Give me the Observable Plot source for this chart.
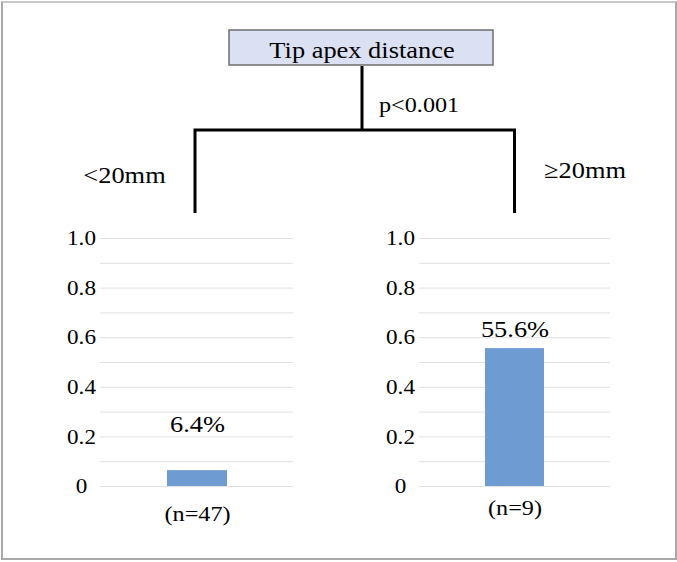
<!DOCTYPE html>
<html>
<head>
<meta charset="utf-8">
<script src="https://cdn.jsdelivr.net/npm/d3@7"></script>
<script src="https://cdn.jsdelivr.net/npm/@observablehq/plot@0.6"></script>
<style>
  html, body { margin: 0; padding: 0; background: #fff; }
  #fig { position: relative; width: 677px; height: 562px; background: #fff; font-family: "Liberation Serif", "Times New Roman", "DejaVu Serif", serif; color: #000; }
  #fig text { font-family: "Liberation Serif", "Times New Roman", "DejaVu Serif", serif !important; }
  #frame { position: absolute; left: 1px; top: 1px; width: 672px; height: 555px; border: 2px solid #a9a9a9; border-top-color: #c8c8c8; }
  .chart { position: absolute; }
  #tree { position: absolute; left: 0; top: 0; }
</style>
</head>
<body>
<div id="fig">
  <div id="frame"></div>
  <svg id="tree" width="677" height="230"></svg>
  <div id="left" class="chart" style="left:40px; top:210px;"></div>
  <div id="right" class="chart" style="left:359px; top:210px;"></div>
</div>
<script>
// ---- data ----
const rootLabel = "Tip apex distance";
const pLabel = "p<0.001";
const groups = ["<20mm", "≥20mm"];
const groupN = ["(n=47)", "(n=9)"];
const rates = [0.064, 0.556];
const rateLabels = ["6.4%", "55.6%"];
const yTicks = [0, 0.2, 0.4, 0.6, 0.8, 1.0];
const gridTicks = [0, 0.1, 0.2, 0.3, 0.4, 0.5, 0.6, 0.7, 0.8, 0.9, 1.0];

const STRETCH = 1.1;
const FONT = "'Liberation Serif', 'Times New Roman', 'DejaVu Serif', serif";
const barColor = "#6f9bd3";

function stretchText(root) {
  root.querySelectorAll("text").forEach(t => {
    const L = t.getComputedTextLength();
    if (L > 0) {
      t.setAttribute("textLength", (L * STRETCH).toFixed(2));
      t.setAttribute("lengthAdjust", "spacingAndGlyphs");
    }
  });
}

function makeChart(i, marginRight, nPad, labelDy) {
  const data = [{group: groupN[i], rate: rates[i], label: rateLabels[i]}];
  return Plot.plot({
    width: 260,
    height: 326,
    marginLeft: 60,
    marginRight: marginRight,
    marginTop: 28,
    marginBottom: 50,
    style: {fontFamily: FONT, fontSize: "21px", color: "#000", background: "transparent", overflow: "visible"},
    x: {domain: [groupN[i]], padding: 0.525, label: null},
    y: {domain: [0, 1], label: null},
    marks: [
      Plot.gridY(gridTicks, {stroke: "#e0e0e0", strokeOpacity: 1, strokeWidth: 1}),
      Plot.barY(data, {x: "group", y: "rate", fill: barColor}),
      Plot.text(data, {x: "group", y: "rate", text: "label", dy: labelDy, fontSize: 24, fill: "#000"}),
      Plot.axisY(yTicks, {tickSize: 0, tickPadding: 19, textAnchor: "middle", fontSize: 21, fill: "#000",
        tickFormat: d => d === 0 ? "0" : d.toFixed(1), label: null}),
      Plot.axisX({tickSize: 0, tickPadding: nPad, fontSize: 22, fill: "#000", label: null})
    ]
  });
}

const leftChart = makeChart(0, 7, 19, -46);
const rightChart = makeChart(1, 9, 13, -19);
document.getElementById("left").appendChild(leftChart);
document.getElementById("right").appendChild(rightChart);

// ---- tree (legs aligned with the bar centres from the Plot scales) ----
function barCenter(chart, i, offsetLeft) {
  const sx = chart.scale("x");
  return offsetLeft + sx.apply(groupN[i]) + sx.bandwidth / 2;
}
const legX = [barCenter(leftChart, 0, 40) - 2, barCenter(rightChart, 1, 359)];

const tree = d3.select("#tree");
const box = {x0: 229, x1: 493, y0: 30, y1: 65};
const stemX = (box.x0 + box.x1) / 2 + 1;
const barY = 130, legBottom = 213;

tree.append("rect")
  .attr("x", box.x0).attr("y", box.y0)
  .attr("width", box.x1 - box.x0).attr("height", box.y1 - box.y0)
  .attr("fill", "#dbe1f2").attr("stroke", "#6e6e6e").attr("stroke-width", 1.5);
tree.append("text")
  .attr("x", stemX).attr("y", 57.5)
  .attr("text-anchor", "middle")
  .attr("font-size", 24).attr("fill", "#000")
  .text(rootLabel);

const lineAttrs = sel => sel.attr("stroke", "#000").attr("stroke-width", 3).attr("fill", "none");
lineAttrs(tree.append("path")
  .attr("d", `M${stemX},${box.y1 + 1}V${barY}`));
lineAttrs(tree.append("path")
  .attr("d", `M${legX[0]},${legBottom}V${barY}H${legX[1]}V${legBottom}`).attr("stroke-linejoin", "miter"));

tree.append("text")
  .attr("x", 379).attr("y", 112)
  .attr("font-size", 22).attr("fill", "#000")
  .text(pLabel);
tree.append("text")
  .attr("x", 124.5).attr("y", 183).attr("text-anchor", "middle")
  .attr("font-size", 24).attr("fill", "#000")
  .text(groups[0]);
tree.append("text")
  .attr("x", 585).attr("y", 178).attr("text-anchor", "middle")
  .attr("font-size", 24).attr("fill", "#000")
  .text(groups[1]);

stretchText(document.getElementById("fig"));
</script>
</body>
</html>
